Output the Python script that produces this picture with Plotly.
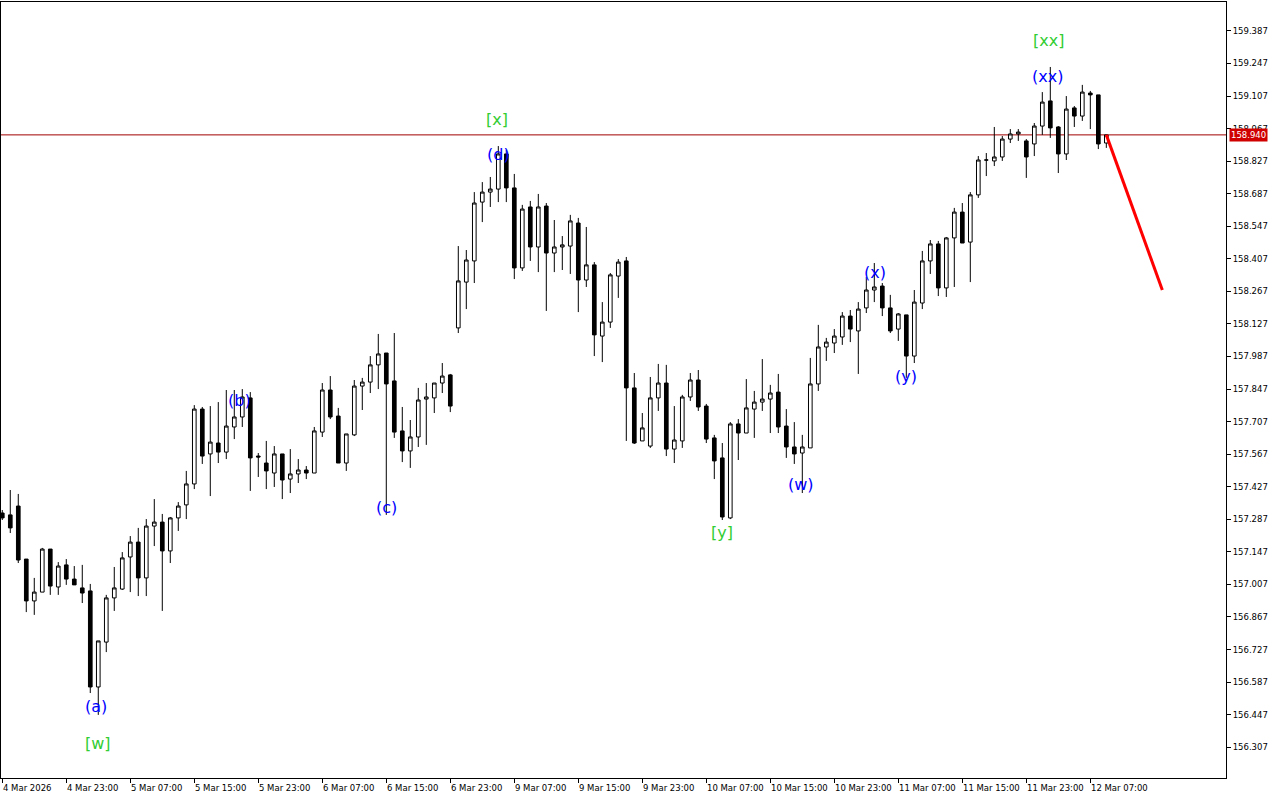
import plotly.graph_objects as go

opens = [157.314,157.306,157.344,157.116,156.936,156.974,157.159,156.996,157.091,157.030,
156.992,156.979,156.566,156.759,156.949,156.987,157.125,157.189,157.035,157.258,
157.275,157.151,157.293,157.349,157.439,157.761,157.568,157.615,157.576,157.684,
157.727,157.809,157.559,157.529,157.486,157.568,157.460,157.482,157.499,157.486,
157.662,157.843,157.731,157.529,157.650,157.860,157.877,157.951,158.002,157.882,
157.667,157.581,157.641,157.804,157.809,157.873,157.908,158.110,158.307,158.398,
158.651,158.694,158.707,158.858,158.712,158.368,158.630,158.458,158.634,158.432,
158.458,158.462,158.561,158.316,158.381,158.075,158.135,158.333,158.398,157.852,
157.624,157.602,157.809,157.873,157.589,157.624,157.813,157.886,157.774,157.637,
157.551,157.293,157.697,157.658,157.761,157.791,157.804,157.834,157.688,157.598,
157.572,157.594,157.869,158.028,158.045,158.071,158.161,158.097,158.196,158.273,
158.290,158.196,158.105,158.166,157.989,158.217,158.398,158.471,158.282,158.497,
158.608,158.479,158.682,158.832,158.828,158.845,158.922,158.944,158.914,158.901,
158.978,159.086,158.974,158.858,159.056,159.021,159.120,159.112,158.905]

highs = [157.327,157.413,157.396,157.116,157.035,157.164,157.159,157.103,157.116,157.086,
157.091,157.009,156.764,156.962,157.082,157.146,157.215,157.250,157.288,157.374,
157.310,157.297,157.361,157.495,157.778,157.770,157.774,157.791,157.843,157.843,
157.847,157.834,157.572,157.624,157.602,157.568,157.589,157.546,157.516,157.684,
157.873,157.903,157.766,157.654,157.886,157.895,157.989,158.084,158.002,158.088,
157.770,157.714,157.852,157.873,157.873,157.959,157.912,158.462,158.445,158.694,
158.737,158.759,158.892,158.875,158.772,158.639,158.656,158.686,158.647,158.574,
158.505,158.596,158.583,158.544,158.393,158.221,158.346,158.406,158.415,157.916,
157.744,157.899,157.955,157.951,157.774,157.822,157.916,157.929,157.783,157.650,
157.615,157.705,157.718,157.890,157.839,157.976,157.865,157.912,157.761,157.705,
157.650,157.981,158.123,158.067,158.105,158.178,158.187,158.221,158.329,158.389,
158.303,158.252,158.174,158.166,158.273,158.441,158.488,158.484,158.501,158.626,
158.647,158.694,158.849,158.862,158.974,158.935,158.965,158.965,158.922,158.991,
159.124,159.232,158.978,159.107,159.064,159.155,159.129,159.112,158.940]

lows = [157.284,157.228,157.099,156.888,156.876,156.974,156.962,156.962,157.005,157.005,
156.927,156.540,156.446,156.716,156.893,156.983,156.974,156.957,156.957,157.172,
156.893,157.099,157.237,157.288,157.417,157.525,157.387,157.529,157.546,157.632,
157.684,157.409,157.469,157.417,157.426,157.374,157.400,157.443,157.460,157.486,
157.641,157.718,157.529,157.495,157.645,157.757,157.830,157.847,157.306,157.637,
157.533,157.508,157.598,157.607,157.744,157.830,157.748,158.088,158.191,158.303,
158.565,158.630,158.651,158.651,158.320,158.355,158.398,158.350,158.183,158.350,
158.359,158.342,158.178,158.286,157.989,157.963,158.110,158.239,157.624,157.611,
157.624,157.594,157.753,157.559,157.529,157.594,157.796,157.753,157.615,157.460,
157.284,157.288,157.542,157.658,157.637,157.753,157.658,157.658,157.551,157.525,
157.400,157.594,157.839,157.968,158.002,158.037,158.049,157.912,158.174,158.221,
158.161,158.088,158.054,157.895,157.959,158.191,158.342,158.247,158.243,158.286,
158.475,158.307,158.669,158.763,158.806,158.828,158.905,158.914,158.755,158.849,
158.940,158.927,158.776,158.832,158.974,159.000,158.965,158.879,158.884]

closes = [157.293,157.250,157.112,156.936,156.974,157.159,157.000,157.086,157.030,157.005,
156.970,156.566,156.764,156.949,156.992,157.121,157.189,157.035,157.258,157.275,
157.151,157.293,157.344,157.439,157.761,157.559,157.619,157.576,157.688,157.727,
157.813,157.551,157.555,157.495,157.568,157.456,157.482,157.499,157.486,157.667,
157.843,157.727,157.529,157.654,157.860,157.877,157.951,157.998,157.869,157.662,
157.581,157.641,157.800,157.813,157.873,157.903,157.774,158.312,158.402,158.647,
158.694,158.707,158.858,158.712,158.368,158.621,158.458,158.630,158.432,158.458,
158.467,158.570,158.316,158.381,158.080,158.135,158.338,158.393,157.852,157.615,
157.680,157.809,157.873,157.589,157.628,157.813,157.886,157.770,157.632,157.538,
157.297,157.697,157.658,157.766,157.791,157.804,157.830,157.684,157.598,157.568,
157.598,157.869,158.028,158.049,158.075,158.161,158.105,158.191,158.273,158.286,
158.196,158.097,158.170,157.989,158.221,158.398,158.471,158.282,158.497,158.608,
158.475,158.682,158.832,158.832,158.845,158.922,158.944,158.952,158.845,158.978,
159.081,158.970,158.858,159.051,159.021,159.124,159.112,158.901,158.940]

bar_index = list(range(len(opens)))

# time axis labels (every 8 H1 bars)
xtick_idx = [0, 8, 16, 24, 32, 40, 48, 56, 64, 72, 80, 88, 96, 104, 112, 120, 128, 136]
xtick_text = ["4 Mar 2026", "4 Mar 23:00", "5 Mar 07:00", "5 Mar 15:00", "5 Mar 23:00",
              "6 Mar 07:00", "6 Mar 15:00", "6 Mar 23:00", "9 Mar 07:00", "9 Mar 15:00",
              "9 Mar 23:00", "10 Mar 07:00", "10 Mar 15:00", "10 Mar 23:00", "11 Mar 07:00",
              "11 Mar 15:00", "11 Mar 23:00", "12 Mar 07:00"]

ytick_vals = [156.307, 156.447, 156.587, 156.727, 156.867, 157.007, 157.147, 157.287,
              157.427, 157.567, 157.707, 157.847, 157.987, 158.127, 158.267, 158.407,
              158.547, 158.687, 158.827, 158.967, 159.107, 159.247, 159.387]

current_price = 158.940

# Elliott wave labels
wave_text = ["(a)", "[w]", "(b)", "(c)", "(d)", "[x]", "[y]", "(w)", "(x)", "(y)", "(xx)", "[xx]"]
wave_idx = [11.7, 12.0, 29.7, 48.0, 62.0, 61.8, 90.0, 99.8, 109.1, 113.0, 130.7, 130.8]
wave_price = [156.484, 156.325, 157.800, 157.336, 158.854, 159.008, 157.232, 157.435,
              158.350, 157.899, 159.189, 159.348]
wave_color = ["blue", "green", "blue", "blue", "blue", "green", "green", "blue", "blue",
              "blue", "blue", "green"]

# forecast line
fc_idx = [138, 145]
fc_price = [158.940, 158.273]

BLUE = "#0000ff"
GREEN = "#32cd32"

fig = go.Figure()
fig.add_trace(go.Candlestick(
    x=bar_index, open=opens, high=highs, low=lows, close=closes,
    increasing=dict(line=dict(color="black", width=1), fillcolor="white"),
    decreasing=dict(line=dict(color="black", width=1), fillcolor="black"),
    whiskerwidth=0, hoverinfo="skip", showlegend=False,
))
fig.add_trace(go.Scatter(
    x=fc_idx, y=fc_price, mode="lines",
    line=dict(color="#ff0000", width=3), hoverinfo="skip", showlegend=False,
))

for t, xi, yp, c in zip(wave_text, wave_idx, wave_price, wave_color):
    fig.add_annotation(x=xi, y=yp, text=t, showarrow=False,
                       font=dict(family="DejaVu Sans", size=16,
                                 color=BLUE if c == "blue" else GREEN),
                       xanchor="center", yanchor="middle")

for xi, t in zip(xtick_idx, xtick_text):
    fig.add_annotation(x=xi, y=0, yref="paper", text=t, showarrow=False,
                       xanchor="left", yanchor="top", yshift=-3, xshift=-1,
                       font=dict(family="DejaVu Sans", size=8.5, color="black"))

# current price line and label
fig.add_shape(type="line", xref="paper", x0=0, x1=1, y0=current_price, y1=current_price,
              line=dict(color="#a00000", width=1), layer="below")
fig.add_annotation(x=1, xref="paper", y=current_price, text=f"{current_price:.3f}",
                   showarrow=False, xanchor="left", yanchor="middle", xshift=3,
                   bgcolor="#d00000", borderpad=1,
                   font=dict(family="DejaVu Sans", size=8.5, color="white"))

fig.update_layout(
    width=1280, height=800,
    margin=dict(l=1, r=54, t=2, b=22),
    paper_bgcolor="white", plot_bgcolor="white",
    showlegend=False, boxgap=0.35,
    font=dict(family="DejaVu Sans", size=8.5, color="black"),
    xaxis=dict(range=[-0.16, 152.96], showgrid=False, zeroline=False,
               rangeslider=dict(visible=False),
               showline=True, mirror=True, linecolor="black", linewidth=1,
               tickmode="array", tickvals=xtick_idx, showticklabels=False,
               ticks="outside", ticklen=4, tickcolor="black"),
    yaxis=dict(range=[156.1746, 159.5114], side="right", showgrid=False, zeroline=False,
               showline=True, mirror=True, linecolor="black", linewidth=1,
               tickmode="array", tickvals=ytick_vals,
               ticktext=[f"{v:.3f}" for v in ytick_vals],
               ticks="outside", ticklen=4, tickcolor="black",
               tickfont=dict(family="DejaVu Sans", size=8.5, color="black")),
)

fig.write_html("out.html", config={"displayModeBar": False},
               post_script="document.body.style.margin='0px';document.body.style.padding='0px';")
